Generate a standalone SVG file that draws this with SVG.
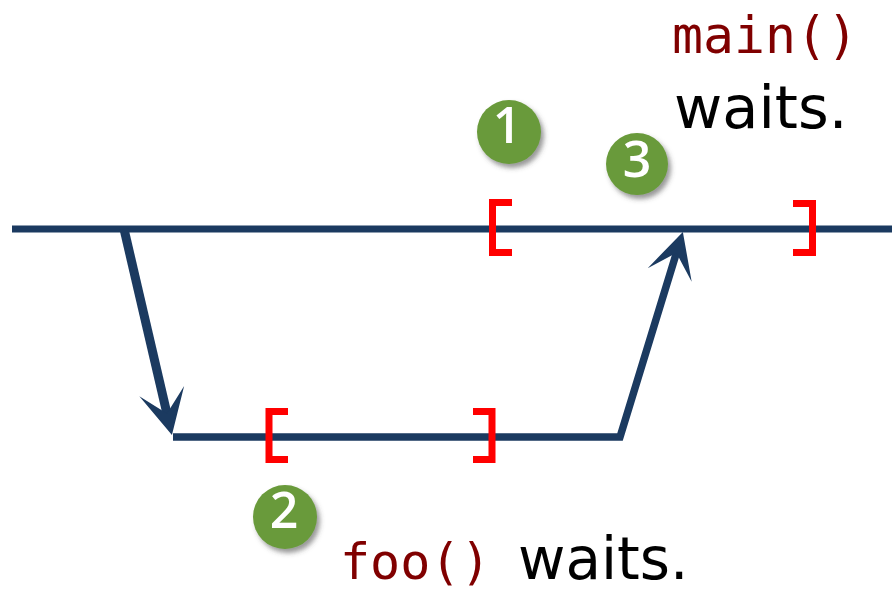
<svg xmlns="http://www.w3.org/2000/svg" width="892" height="593" viewBox="0 0 892 593">
<style>
.ln{fill:none;stroke:#1b3a60;stroke-width:7;stroke-linejoin:miter}
.ar{fill:none;stroke:#1b3a60;stroke-width:9;stroke-linejoin:miter}
.br{fill:none;stroke:#ff0000;stroke-width:7;stroke-linejoin:miter;stroke-linecap:butt}
.dot{fill:#699a3a;filter:url(#sh)}
.num{font-family:"Open Sans","DejaVu Sans",sans-serif;font-size:50px;font-weight:600;fill:#ffffff;text-anchor:middle}
.code{font-family:"DejaVu Sans Mono","Liberation Mono",monospace;fill:#800000}
.txt{font-family:"DejaVu Sans","Liberation Sans",sans-serif;fill:#000000}
</style>
<defs>
<filter id="sh" x="-30%" y="-30%" width="170%" height="170%">
<feDropShadow dx="3" dy="4" stdDeviation="2.5" flood-color="#444" flood-opacity="0.55"/>
</filter>
<marker id="ah" markerUnits="userSpaceOnUse" viewBox="-48 -26 50 52" markerWidth="50" markerHeight="52" refX="-20" refY="0" orient="auto">
<path d="M0,0 L-45,-23 L-22,0 L-45,23 Z" fill="#1b3a60"/>
</marker>
</defs>
<g id="connectors">
<line class="ln" x1="12" y1="229" x2="892" y2="229"/>
<line class="ar" x1="124" y1="229" x2="167.4" y2="415.5" marker-end="url(#ah)"/>
<polyline class="ar" points="173,437 620,437 677,251" marker-end="url(#ah)" style="stroke-width:7.5"/>
</g>
<g id="brackets">
<path class="br" d="M512,202.5 H492.5 V252.5 H512"/>
<path class="br" d="M793,203.5 H812.5 V252.5 H793"/>
<path class="br" d="M288,411.5 H269 V459.5 H288"/>
<path class="br" d="M473,411.5 H492 V459.5 H473"/>
</g>
<g id="step1">
<circle class="dot" cx="509" cy="132" r="32"/>
<text class="num" x="507" y="143">1</text>
</g>
<g id="step2">
<circle class="dot" cx="285" cy="517" r="32"/>
<text class="num" x="284" y="528">2</text>
</g>
<g id="step3">
<circle class="dot" cx="637" cy="164" r="31"/>
<text class="num" x="637" y="177">3</text>
</g>
<g id="label-main">
<text class="code" x="672" y="53" font-size="51.5">main()</text>
<text class="txt" x="674" y="128" font-size="59">waits.</text>
</g>
<g id="label-foo">
<text class="code" x="340" y="579" font-size="50">foo()</text>
<text class="txt" x="518" y="579" font-size="58">waits.</text>
</g>
</svg>
